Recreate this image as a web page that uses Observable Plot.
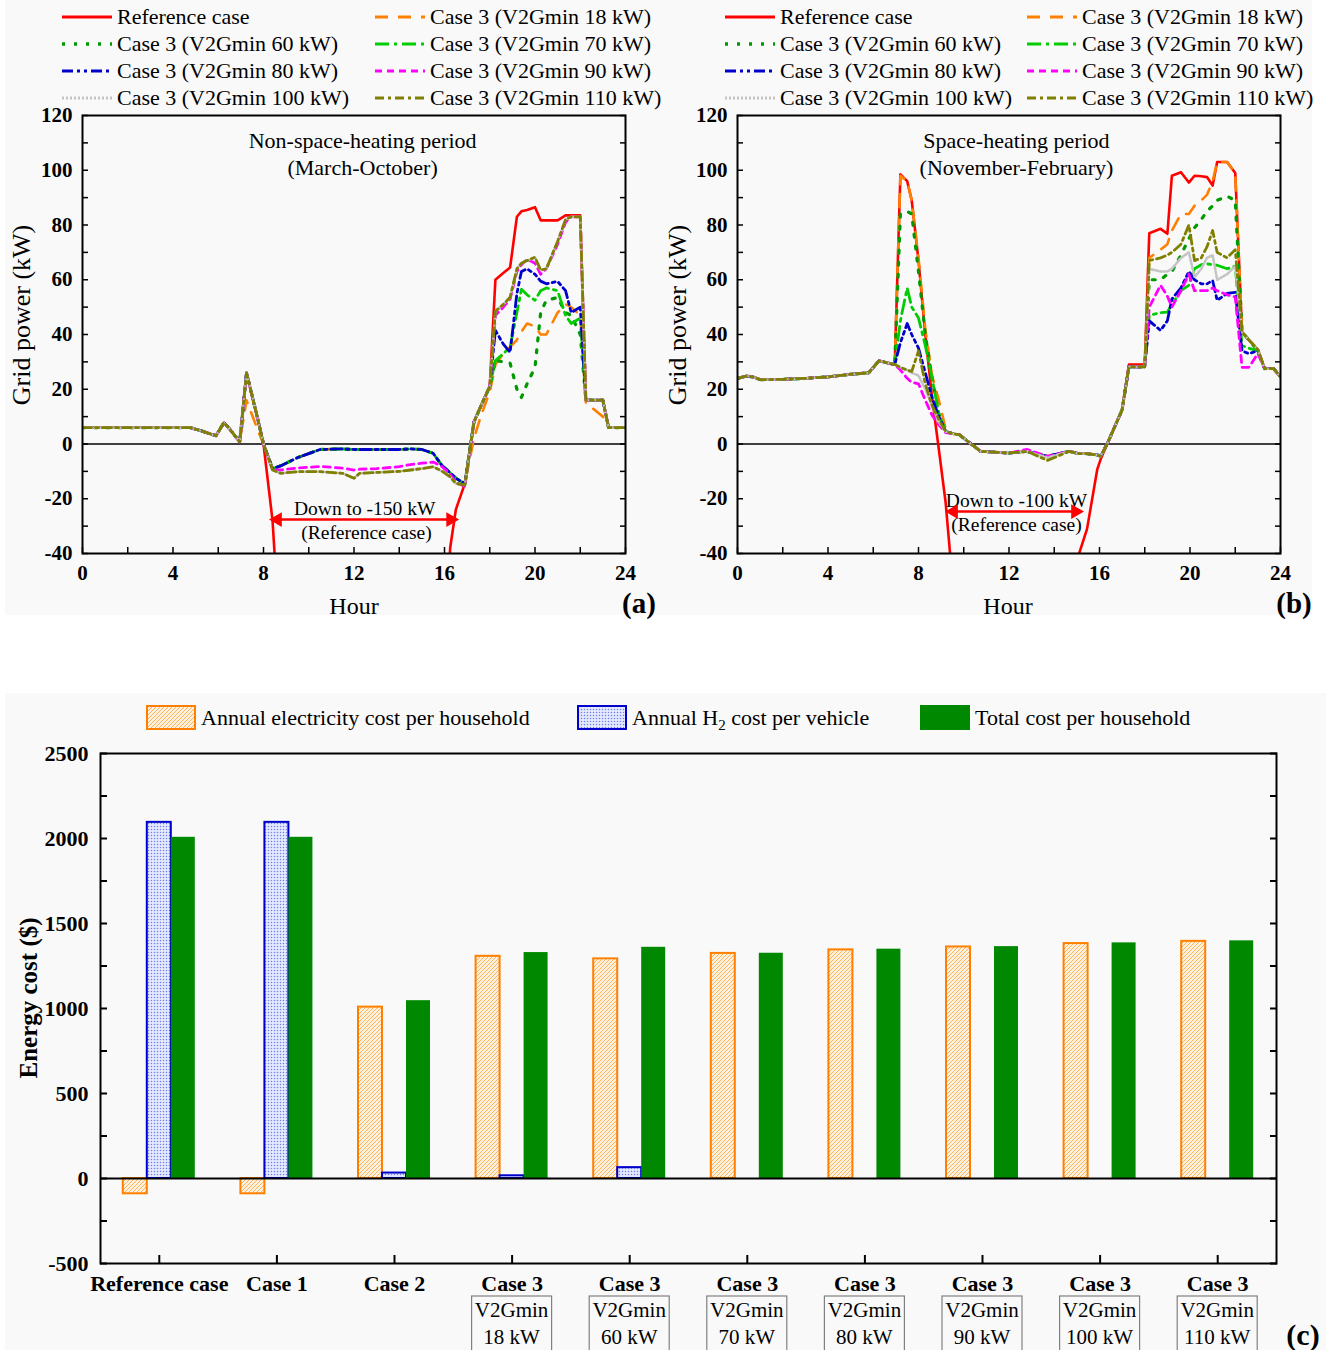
<!DOCTYPE html>
<html><head><meta charset="utf-8">
<script src="https://cdn.jsdelivr.net/npm/d3@7"></script>
<script src="https://cdn.jsdelivr.net/npm/@observablehq/plot@0.6"></script>
<style>
body{margin:0;background:#fff;font-family:"Liberation Serif","Times New Roman",serif;color:#000;}
#page{position:relative;width:1326px;height:1350px;overflow:hidden;background:#fff;}
.panel{position:absolute;background:#f9f9f9;}
.abs{position:absolute;white-space:nowrap;line-height:1;}
.leg{position:absolute;display:flex;align-items:center;font-size:22px;white-space:nowrap;}
.leg svg{margin-right:5px;}
.leg sub{font-size:15px;line-height:0;vertical-align:-5px;}
.rot{transform:translate(-50%,-50%) rotate(-90deg);}
.ctr{transform:translate(-50%,-50%);}
</style></head><body>
<svg width="0" height="0" style="position:absolute">
<defs>
<pattern id="hatchO" patternUnits="userSpaceOnUse" width="4" height="4">
<rect width="4" height="4" fill="#fff1dc"/>
<path d="M-1,1 l2,-2 M0,4 l4,-4 M3,5 l2,-2" stroke="#ffa94d" stroke-width="0.9"/>
</pattern>
<pattern id="dotsB" patternUnits="userSpaceOnUse" width="3" height="3">
<rect width="3" height="3" fill="#e4e9ff"/>
<circle cx="1.5" cy="1.5" r="0.75" fill="#6f7ff0"/>
</pattern>
</defs></svg>
<div id="page">
<div class="panel" style="left:5px;top:0;width:655px;height:615px"></div>
<div class="panel" style="left:660px;top:0;width:652px;height:615px"></div>
<div class="panel" style="left:5px;top:693px;width:1321px;height:657px"></div>
<div id="pa" class="abs" style="left:0;top:0"></div>
<div id="pb" class="abs" style="left:660px;top:0"></div>
<div id="pc" class="abs" style="left:0;top:693px"></div>
<div class="abs rot" style="left:22px;top:315px;font-size:26px">Grid power (kW)</div>
<div class="abs rot" style="left:678px;top:315px;font-size:26px">Grid power (kW)</div>
<div class="abs ctr" style="left:354px;top:606px;font-size:24px">Hour</div>
<div class="abs ctr" style="left:1008px;top:606px;font-size:24px">Hour</div>
<div class="abs ctr" style="left:639px;top:603px;font-size:29px;font-weight:bold">(a)</div>
<div class="abs ctr" style="left:1294px;top:603px;font-size:29px;font-weight:bold">(b)</div>
<div class="abs rot" style="left:28px;top:998px;font-size:25px;font-weight:bold">Energy cost ($)</div>
<div class="abs ctr" style="left:1303px;top:1335px;font-size:30px;font-weight:bold">(c)</div>
</div>
<script>
// ---------- Panel (a): non-space-heating period ----------
const hoursA = [0,4.75,5.25,5.9,6.25,6.5,6.95,7.25,7.75,8.0,8.4,8.75,9.5,10.5,11.5,12.0,12.25,13.0,14.0,14.5,15.0,15.5,15.9,16.25,16.5,16.9,17.3,17.6,18.0,18.25,18.6,18.9,19.2,19.4,19.65,20.0,20.25,20.5,21.0,21.35,21.6,22.0,22.25,23.0,23.25,24];
const refA   = [6,6,4.8,3,7.8,5.5,0.8,26,9,0,-28,-75,-150,-150,-150,-150,-150,-150,-150,-150,-150,-150,-100,-38,-24,-14.5,8,13.7,21,60,62.5,64.5,83,85,85.5,86.5,81.7,81.7,81.7,83.5,83.5,83.5,16,16,6,6];
const kw18A  = [6,6,4.8,3,7.8,5.5,0.8,16,5,0,-9,-8,-5,-2,-1.8,-2,-2,-2,-2,-1.8,-2,-3.4,-8,-10.5,-12.5,-14.5,2,10,19,29,33,35.5,38,41,44,43,40,40,48,51,50,47,15,10,6,6];
const kw60A  = [6,6,4.8,3,7.8,5.5,0.8,26,9,0,-9,-8,-5,-2,-1.8,-2,-2,-2,-2,-1.8,-2,-3.4,-8,-10.5,-12.5,-14.5,8,13.7,21,30.5,30,29.5,20,17,22,28,48,52.5,53.5,48,47,40,16,16,6,6];
const kw70A  = [6,6,4.8,3,7.8,5.5,0.8,26,9,0,-9,-8,-5,-2,-1.8,-2,-2,-2,-2,-1.8,-2,-3.4,-8,-10.5,-12.5,-14.5,8,13.7,21,30.5,33,35.4,48,56.5,54.5,52.5,56,57,56,47,44,46,16,16,6,6];
const kw80A  = [6,6,4.8,3,7.8,5.5,0.8,26,9,0,-9,-8,-5,-2,-1.8,-2,-2,-2,-2,-1.8,-2,-3.4,-8,-10.5,-12.5,-14.5,8,13.7,21,41.5,36.5,33.5,55,63,64,62,59.5,58.5,59.4,56,48,50,16,16,6,6];
const kw90A  = [6,6,4.8,3,7.8,5.5,0.8,26,9,0,-9.5,-9.5,-8.8,-8.2,-8.8,-9.5,-9.2,-9,-8.3,-7.5,-7,-6.6,-8.3,-11,-14,-15.5,8,13.7,21,47,50,53,63,65.5,67.5,66,62,64,73,81,83,83,16,16,6,6];
const kw100A = [6,6,4.8,3,7.8,5.5,0.8,26,9,0,-9.5,-10.7,-10.1,-10.1,-10.7,-12.5,-10.7,-10.4,-10,-9.5,-9,-8.3,-10,-12,-14.4,-15,8,13.7,21,48.5,51,53.6,64,66,67,68.2,63.5,64,74,82,83,83,16,16,6,6];
const kw110A = [6,6,4.8,3,7.8,5.5,0.8,26,9,0,-9.5,-10.7,-10.1,-10.1,-10.7,-12.5,-10.7,-10.4,-10,-9.5,-9,-8.3,-10,-12,-14.4,-15,8,13.7,21,48.5,51,53.6,64,66,67,68.2,63.5,64,74,82,83,83,16,16,6,6];

// ---------- Panel (b): space-heating period ----------
const hoursB = [0,0.4,0.7,1.0,2.0,3.0,4.0,5.0,5.8,6.25,6.95,7.2,7.5,7.7,8.0,8.3,8.6,8.9,9.2,9.5,9.8,10.75,12.0,12.8,13.7,14.65,15.1,15.45,15.9,16.05,16.36,17.0,17.3,18.0,18.2,18.7,19.0,19.2,19.6,19.95,20.2,20.5,20.75,21.0,21.2,21.64,22.0,22.3,22.6,23.0,23.3,23.7,24];
const refB   = [24,24.8,24.5,23.5,23.6,24,24.5,25.5,26,30.4,29,98.5,96,89,67,40,17,-2,-21.4,-50,-100,-100,-100,-100,-100,-100,-40,-31,-9.3,-5.6,0.4,12.5,29,29,77,78.6,76.8,98,99.3,95.5,98,97.8,97.5,94.4,103,103,99,41,38,34.5,27.5,27.5,24.5];
const kw18B  = [24,24.8,24.5,23.5,23.6,24,24.5,25.5,26,30.4,29,98,96,89,68,42,25,16,5.5,3.8,3.4,-2.7,-3.3,-2.7,-4.5,-2.7,-3.5,-3.5,-4,-4.5,0.4,12.5,28.2,28.2,68,71,73,78,84,84,87,89,91,96,103,103,99,41,38,34.5,27.5,27.5,24.5];
const kw60B  = [24,24.8,24.5,23.5,23.6,24,24.5,25.5,26,30.4,29,84,85,84,63,40,24,11,4.6,3.8,3.4,-2.7,-3.3,-2.7,-4.5,-2.7,-3.5,-3.5,-4,-4.5,0.4,12.5,28.2,28.2,60,60,62,63,69,75,79,82,85,87,89,90.5,89,41,38,34,27.5,27.5,24.5];
const kw70B  = [24,24.8,24.5,23.5,23.6,24,24.5,25.5,26,30.4,29,45,57,50,46,36,24,11,4.6,3.8,3.4,-2.7,-3.3,-2.7,-4.5,-2.7,-3.5,-3.5,-4,-4.5,0.4,12.5,28.2,28.2,47,48,48.2,51,56,58,64,65.5,65.8,65.5,65.3,64,65,36,35,34,27.5,27.5,24.5];
const kw80B  = [24,24.8,24.5,23.5,23.6,24,24.5,25.5,26,30.4,29,37,44,40,35,26,17,10,4.6,3.8,3.4,-2.7,-3.3,-2.7,-4.5,-2.7,-3.5,-3.5,-4,-4.5,0.4,12.5,28.2,28.2,45,41.5,45,53,57,63,60,58.5,58.5,59.7,52.5,55,55.4,34,33,34,27.5,27.5,24.5];
const kw90B  = [24,24.8,24.5,23.5,23.6,24,24.5,25.5,26,30.4,29,27,24,22.5,22,16,10.5,7,4.2,3.8,3.4,-2.7,-3.3,-2,-4.5,-2.7,-3.5,-3.5,-4,-4.5,0.4,12.5,28.2,28.2,50,58,54,50,56,62,56,56,56,57,56,54.5,53.7,28,28,33,27.5,27.5,24.5];
const kw100B = [24,24.8,24.5,23.5,23.6,24,24.5,25.5,26,30.4,29,28,27,26,25,20,14,8,4.6,3.8,3.4,-2.7,-3.3,-2.7,-5,-2.7,-3.5,-3.5,-4,-4.5,0.4,12.5,28.2,28.2,64,63,63,64,68,70,61,64,68,69,60,62,65,41,38,34.5,27.5,27.5,24.5];
const kw110B = [24,24.8,24.5,23.5,23.6,24,24.5,25.5,26,30.4,29,28,27,26.5,34,22,14,9,4.6,3.8,3.4,-2.7,-3.3,-2.7,-6,-2.7,-3.5,-3.5,-4,-4.5,0.4,12.5,28.2,28.2,67,68,69,70,73,80,67,68,72,78,70,68,71,41,38,34.5,27.5,27.5,24.5];

const seriesNames = ["Reference case","Case 3 (V2Gmin 18 kW)","Case 3 (V2Gmin 60 kW)","Case 3 (V2Gmin 70 kW)","Case 3 (V2Gmin 80 kW)","Case 3 (V2Gmin 90 kW)","Case 3 (V2Gmin 100 kW)","Case 3 (V2Gmin 110 kW)"];
const hourTicks = [0,4,8,12,16,20,24];
const powerTicks = [-40,-20,0,20,40,60,80,100,120];

// annotations (data units)
const titleA = [{h:12.38,v:110.8,t:"Non-space-heating period"},{h:12.38,v:101,t:"(March-October)"}];
const noteA  = [{h:12.47,v:-23.6,t:"Down to -150 kW"},{h:12.55,v:-32.3,t:"(Reference case)"}];
const arrowA = [{x1:8.4,x2:16.49,y:-27.6}];
const titleB = [{h:12.33,v:110.8,t:"Space-heating period"},{h:12.33,v:101,t:"(November-February)"}];
const noteB  = [{h:12.33,v:-20.6,t:"Down to -100 kW"},{h:12.33,v:-29.4,t:"(Reference case)"}];
const arrowB = [{x1:9.33,x2:15.16,y:-24.7}];

// ---------- Panel (c): costs ----------
const caseIds = ["ref","c1","c2","c3_18","c3_60","c3_70","c3_80","c3_90","c3_100","c3_110"];
const caseLabels = ["Reference case","Case 1","Case 2","Case 3","Case 3","Case 3","Case 3","Case 3","Case 3","Case 3"];
const caseSub = ["","","","18 kW","60 kW","70 kW","80 kW","90 kW","100 kW","110 kW"];
const elecCost  = [-90,-90,1008,1307,1292,1324,1345,1362,1382,1395];
const h2Cost    = [2095,2095,32,16,64,0,0,0,0,0];
const totalCost = [2007,2007,1046,1329,1360,1325,1349,1364,1386,1398];
const costTicks = [-500,0,500,1000,1500,2000,2500];
const costNames = ["Annual electricity cost per household","Annual H<sub>2</sub> cost per vehicle","Total cost per household"];

// ---------- styles ----------
const lineStyles = [
  {color:"#ff0000", dash:null, width:2.6},
  {color:"#ff8000", dash:"13,10", width:2.6},
  {color:"#009a00", dash:"3,9", width:3.2},
  {color:"#00cc00", dash:"14,5,3,5", width:2.8},
  {color:"#0000cc", dash:"11,4,3,4,3,4", width:2.8},
  {color:"#ff00ff", dash:"7,5", width:2.8},
  {color:"#c4c4c4", dash:"2,2", width:2.6},
  {color:"#808000", dash:"9,4,3,4", width:2.8}
];
const FONT = "Liberation Serif";
const plain = d => String(d);

function linePlot(hours, seriesVals, titles, notes, arrows, W, mL, mR) {
  const marks = [Plot.ruleY([0], {stroke:"#000", strokeWidth:1.5})];
  seriesVals.forEach((vals, k) => {
    const st = lineStyles[k];
    const rows = vals.map((v, i) => ({h: hours[i], v}));
    const o = {x:"h", y:"v", stroke:st.color, strokeWidth:st.width, clip:true, strokeLinejoin:"round"};
    if (st.dash) o.strokeDasharray = st.dash;
    marks.push(Plot.line(rows, o));
  });
  marks.push(
    Plot.frame({stroke:"#000", strokeWidth:2}),
    Plot.axisY({ticks:powerTicks, tickSize:0, tickPadding:10, tickFormat:plain, fontWeight:"bold", fontSize:21, label:null}),
    Plot.axisY({ticks:d3.range(-40,121,10), tickSize:-6, tickFormat:()=>"", label:null, strokeWidth:1.5}),
    Plot.axisY({anchor:"right", ticks:d3.range(-40,121,10), tickSize:-6, tickFormat:()=>"", label:null, strokeWidth:1.5}),
    Plot.axisX({ticks:hourTicks, tickSize:0, tickPadding:12, tickFormat:plain, fontWeight:"bold", fontSize:21, label:null}),
    Plot.axisX({ticks:d3.range(0,25,2), tickSize:-6, tickFormat:()=>"", label:null, strokeWidth:1.5}),
    Plot.text(titles, {x:"h", y:"v", text:"t", fontSize:22}),
    Plot.text(notes, {x:"h", y:"v", text:"t", fontSize:19.5}),
    Plot.link(arrows, {x1:"x1", x2:"x2", y1:"y", y2:"y", stroke:"#ff0000", strokeWidth:2.5}),
    Plot.dot(arrows, {x:"x1", y:"y", symbol:"triangle", r:5.5, fill:"#ff0000", stroke:"none", rotate:-90, dx:5}),
    Plot.dot(arrows, {x:"x2", y:"y", symbol:"triangle", r:5.5, fill:"#ff0000", stroke:"none", rotate:90, dx:-5})
  );
  return Plot.plot({
    width:W, height:615, marginLeft:mL, marginRight:mR, marginTop:115, marginBottom:62,
    x:{domain:[0,24]}, y:{domain:[-40,120]},
    style:{background:"transparent", fontFamily:FONT, color:"#000", overflow:"visible"},
    marks
  });
}

document.getElementById("pa").appendChild(
  linePlot(hoursA, [refA,kw18A,kw60A,kw70A,kw80A,kw90A,kw100A,kw110A], titleA, noteA, arrowA, 660, 82, 35));
document.getElementById("pb").appendChild(
  linePlot(hoursB, [refB,kw18B,kw60B,kw70B,kw80B,kw90B,kw100B,kw110B], titleB, noteB, arrowB, 652, 77, 32));

// legends for line panels
function lineLegend(swLefts, top) {
  const page = document.getElementById("page");
  seriesNames.forEach((name, k) => {
    const row = Math.floor(k/2), col = k%2;
    const st = lineStyles[k];
    const d = document.createElement("div");
    d.className = "leg";
    d.style.left = swLefts[col] + "px";
    d.style.top = (top + row*27 - 12) + "px";
    d.style.height = "24px";
    d.innerHTML = `<svg width="50" height="20"><line x1="0" y1="10" x2="50" y2="10" stroke="${st.color}" stroke-width="${st.width+0.4}" ${st.dash?`stroke-dasharray="${st.dash}"`:""}/></svg><span>${name}</span>`;
    page.appendChild(d);
  });
}
lineLegend([62,375], 17);
lineLegend([725,1027], 17);

// bar chart
const W = 1326, mL = 100, mR = 50;
const bw = (W - mL - mR) / caseIds.length;
const barW = 24;
const ins = (bw - barW) / 2;
const rowsE = caseIds.map((id,i)=>({id, v:elecCost[i]}));
const rowsH = caseIds.map((id,i)=>({id, v:h2Cost[i]})).filter(d=>d.v!==0);
const rowsT = caseIds.map((id,i)=>({id, v:totalCost[i]}));
const labelOf = Object.fromEntries(caseIds.map((id,i)=>[id, caseLabels[i]]));
const barPlot = Plot.plot({
  width:W, height:657, marginLeft:mL, marginRight:mR, marginTop:60, marginBottom:87,
  x:{domain:caseIds, padding:0, round:false}, y:{domain:[-500,2500]},
  style:{background:"transparent", fontFamily:FONT, color:"#000", overflow:"visible"},
  marks:[
    Plot.barY(rowsE, {x:"id", y:"v", fill:"url(#hatchO)", stroke:"#ff8000", strokeWidth:2, insetLeft:ins, insetRight:ins, dx:-barW}),
    Plot.barY(rowsH, {x:"id", y:"v", fill:"url(#dotsB)", stroke:"#0000cc", strokeWidth:2, insetLeft:ins, insetRight:ins}),
    Plot.barY(rowsT, {x:"id", y:"v", fill:"#008800", insetLeft:ins, insetRight:ins, dx:barW}),
    Plot.ruleY([0], {stroke:"#000", strokeWidth:2}),
    Plot.frame({stroke:"#000", strokeWidth:2}),
    Plot.axisY({ticks:costTicks, tickSize:0, tickPadding:12, tickFormat:plain, fontWeight:"bold", fontSize:22, label:null}),
    Plot.axisY({ticks:d3.range(-500,2501,250), tickSize:-7, tickFormat:()=>"", label:null, strokeWidth:2}),
    Plot.axisY({anchor:"right", ticks:d3.range(-500,2501,250), tickSize:-7, tickFormat:()=>"", label:null, strokeWidth:2}),
    Plot.axisX({tickSize:-8, tickFormat:()=>"", label:null, strokeWidth:2}),
    Plot.axisX({tickSize:0, tickPadding:12, tickFormat:d=>labelOf[d], fontWeight:"bold", fontSize:22, label:null})
  ]
});
document.getElementById("pc").appendChild(barPlot);
// boxed sub-labels placed by the x scale
const xs = barPlot.scale("x");
const svgC = d3.select(barPlot.tagName.toLowerCase()==="svg" ? barPlot : barPlot.querySelector("svg"));
caseIds.forEach((id,i)=>{
  if (!caseSub[i]) return;
  const cx = xs.apply(id) + xs.bandwidth/2;
  const g = svgC.append("g").attr("font-family", FONT).attr("font-size", 21).attr("text-anchor","middle");
  g.append("rect").attr("x", cx-40).attr("y", 603).attr("width", 80).attr("height", 70).attr("fill","none").attr("stroke","#808080").attr("stroke-width",1.2);
  g.append("text").attr("x", cx).attr("y", 624).text("V2Gmin");
  g.append("text").attr("x", cx).attr("y", 651).text(caseSub[i]);
});

// bar legend
const page = document.getElementById("page");
const swatches = [
  `<svg width="50" height="25"><rect x="1" y="1" width="48" height="23" fill="url(#hatchO)" stroke="#ff8000" stroke-width="2"/></svg>`,
  `<svg width="50" height="25"><rect x="1" y="1" width="48" height="23" fill="url(#dotsB)" stroke="#0000cc" stroke-width="2"/></svg>`,
  `<svg width="50" height="25"><rect x="0" y="0" width="50" height="25" fill="#008800"/></svg>`
];
[146,577,920].forEach((x,k)=>{
  const d = document.createElement("div");
  d.className = "leg";
  d.style.left = x+"px"; d.style.top = "704px"; d.style.height = "27px";
  d.innerHTML = swatches[k] + `<span>${costNames[k]}</span>`;
  page.appendChild(d);
});
</script>
</body></html>
